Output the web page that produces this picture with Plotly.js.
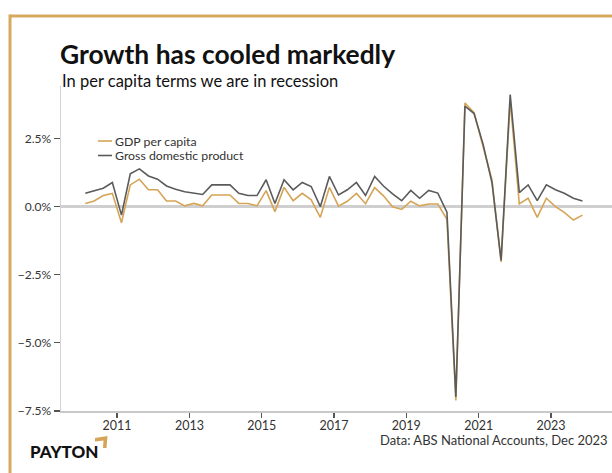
<!DOCTYPE html>
<html><head><meta charset="utf-8">
<script src="https://cdn.plot.ly/plotly-3.0.1.min.js"></script>
<style>html,body{margin:0;padding:0;background:#fff}#chart{width:612px;height:473px}</style>
</head><body><div id="chart"></div>
<script>
// Quarter mid-points (Mar 2010 quarter ... Dec 2023 quarter)
const quarters = [
 "2010-02-15","2010-05-15","2010-08-15","2010-11-15",
 "2011-02-15","2011-05-15","2011-08-15","2011-11-15",
 "2012-02-15","2012-05-15","2012-08-15","2012-11-15",
 "2013-02-15","2013-05-15","2013-08-15","2013-11-15",
 "2014-02-15","2014-05-15","2014-08-15","2014-11-15",
 "2015-02-15","2015-05-15","2015-08-15","2015-11-15",
 "2016-02-15","2016-05-15","2016-08-15","2016-11-15",
 "2017-02-15","2017-05-15","2017-08-15","2017-11-15",
 "2018-02-15","2018-05-15","2018-08-15","2018-11-15",
 "2019-02-15","2019-05-15","2019-08-15","2019-11-15",
 "2020-02-15","2020-05-15","2020-08-15","2020-11-15",
 "2021-02-15","2021-05-15","2021-08-15","2021-11-15",
 "2022-02-15","2022-05-15","2022-08-15","2022-11-15",
 "2023-02-15","2023-05-15","2023-08-15","2023-11-15"
];
// Quarterly growth, per cent
const gdpPerCapita = [
 0.12,0.21,0.41,0.49,
 -0.59,0.80,1.01,0.62,
 0.62,0.21,0.21,0.03,
 0.12,0.03,0.43,0.43,
 0.43,0.12,0.12,0.03,
 0.59,-0.18,0.71,0.22,
 0.49,0.25,-0.39,0.71,
 0.02,0.20,0.49,0.11,
 0.70,0.40,0.00,-0.10,
 0.20,0.03,0.10,0.10,
 -0.46,-7.11,3.81,3.45,
 2.21,0.98,-2.03,3.90,
 0.10,0.31,-0.39,0.31,
 0.00,-0.21,-0.49,-0.31
];
const gdp = [
 0.49,0.58,0.68,0.89,
 -0.31,1.21,1.39,1.13,
 1.01,0.76,0.64,0.55,
 0.49,0.45,0.80,0.80,
 0.80,0.49,0.41,0.41,
 0.99,0.12,0.99,0.62,
 0.89,0.74,0.00,1.11,
 0.43,0.62,0.89,0.41,
 1.11,0.76,0.47,0.22,
 0.60,0.31,0.60,0.50,
 -0.20,-6.98,3.69,3.42,
 2.28,0.88,-1.97,4.12,
 0.52,0.80,0.22,0.80,
 0.62,0.49,0.31,0.21
];
const seriesNames = ["GDP per capita","Gross domestic product"];
const titleText = "Growth has cooled markedly";
const subtitleText = "In per capita terms we are in recession";
const sourceText = "Data: ABS National Accounts, Dec 2023";
const logoText = "PAYTON";

const W = 612, H = 473;
const M = {l:61, r:0, t:86, b:62};
const plotW = W - M.l - M.r, plotH = H - M.t - M.b;
const px = x => (x - M.l) / plotW;
const py = y => (H - M.b - y) / plotH;

// x range: 2011-01-01 at 117px, 2023-01-01 at 551px
const t11 = Date.UTC(2011,0,1), t23 = Date.UTC(2023,0,1);
const msPerPx = (t23 - t11) / (551 - 117);
const xr0 = new Date(t11 - (117 - M.l) * msPerPx).toISOString();
const xr1 = new Date(t11 + (W - M.r - 117) * msPerPx).toISOString();

const FONT = "Lato, 'Open Sans', sans-serif";
const gold = "#D6A456", grey = "#5b5b5b", border = "#D7A95F";
const colors = [gold, grey];

const traces = [
 {x: quarters, y: gdpPerCapita, name: seriesNames[0], type: "scatter", mode: "lines",
  line: {color: colors[0], width: 1.6}},
 {x: quarters, y: gdp, name: seriesNames[1], type: "scatter", mode: "lines",
  line: {color: colors[1], width: 1.6}}
];

// compact legend drawn as line samples + labels
const legendRows = [141, 155.5];
const legendShapes = seriesNames.map((n, i) => ({
  type: "line", xref: "paper", yref: "paper", x0: px(98), x1: px(112),
  y0: py(legendRows[i]), y1: py(legendRows[i]), line: {color: colors[i], width: 1.6}
}));
const legendLabels = seriesNames.map((n, i) => ({
  text: n, xref: "paper", yref: "paper", x: px(114), y: py(legendRows[i]),
  xanchor: "left", yanchor: "middle", showarrow: false, borderpad: 0,
  font: {family: FONT, size: 12.3, color: "#333"}
}));

const layout = {
 width: W, height: H,
 margin: M,
 paper_bgcolor: "#fff", plot_bgcolor: "#fff",
 font: {family: FONT, color: "#333", size: 12},
 title: {text: "<b>" + titleText + "</b>", font: {family: FONT, size: 26.4, color: "#111"},
   xref: "container", yref: "container", x: 60/W, xanchor: "left", y: 1 - 55/H, yanchor: "middle"},
 showlegend: false,
 xaxis: {type: "date", range: [xr0, xr1], tick0: "2011-01-01", dtick: "M24", tickformat: "%Y",
   showgrid: false, zeroline: false, showline: true, linecolor: "#c9c9c9", linewidth: 1.5,
   ticks: "outside", ticklen: 5, tickwidth: 1.2, tickcolor: "#555", ticklabelstandoff: -3,
   tickfont: {family: FONT, size: 12.5, color: "#333"}},
 yaxis: {range: [-7.5, (206.7 - M.t) / 27.24], tick0: 0, dtick: 2.5, tickformat: ".1f", ticksuffix: "%",
   showgrid: false, zeroline: true, zerolinecolor: "#cfcfcf", zerolinewidth: 2.5,
   showline: true, linecolor: "#d3d3d3", linewidth: 1.5,
   ticks: "outside", ticklen: 6, tickwidth: 1.2, tickcolor: "#555",
   tickfont: {family: FONT, size: 12, color: "#333"}},
 annotations: [
  {text: subtitleText, xref: "paper", yref: "paper", x: px(60), y: py(81), xanchor: "left", yanchor: "middle",
   showarrow: false, font: {family: FONT, size: 16.5, color: "#111"}},
  {text: sourceText, xref: "paper", yref: "paper", x: px(610), y: py(440), xanchor: "right", yanchor: "middle",
   showarrow: false, font: {family: FONT, size: 13, color: "#333"}},
  {text: logoText, xref: "paper", yref: "paper", x: px(28), y: py(452), xanchor: "left", yanchor: "middle",
   showarrow: false, font: {family: FONT, size: 17, color: "#111", weight: 900}}
 ].concat(legendLabels),
 shapes: [
  {type: "line", xref: "paper", yref: "paper", x0: px(10), x1: px(W), y0: py(16), y1: py(16),
   line: {color: border, width: 3}, layer: "above"},
  {type: "line", xref: "paper", yref: "paper", x0: px(10), x1: px(10), y0: py(14.5), y1: py(H),
   line: {color: border, width: 3}, layer: "above"},
  {type: "path", xref: "paper", yref: "paper",
   path: "M" + px(95) + "," + py(438) + " L" + px(107.5) + "," + py(436) + " L" + px(106.5) + "," + py(448) +
         " L" + px(103) + "," + py(448) + " L" + px(103.5) + "," + py(440.5) + " L" + px(95) + "," + py(441.5) + " Z",
   fillcolor: gold, line: {width: 0}, layer: "above"}
 ].concat(legendShapes)
};

Plotly.newPlot("chart", traces, layout, {displayModeBar: false, staticPlot: true});
</script>
</body></html>
